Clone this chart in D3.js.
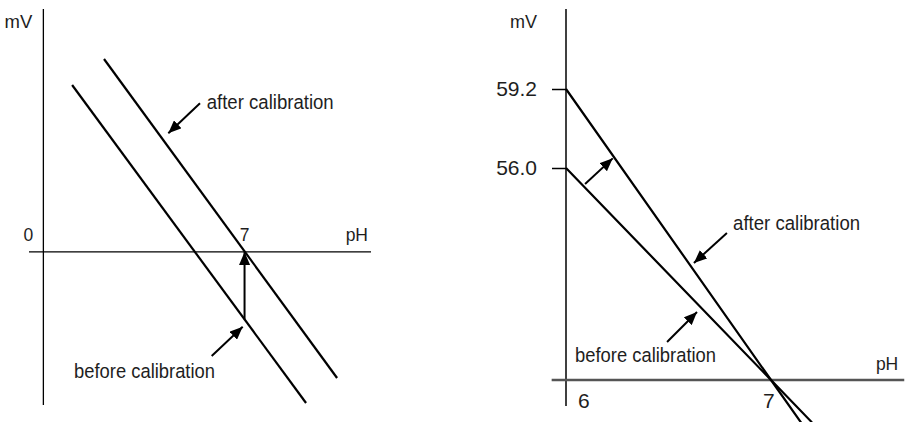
<!DOCTYPE html>
<html><head><meta charset="utf-8">
<script src="https://cdn.jsdelivr.net/npm/d3@7"></script>
<style>html,body{margin:0;padding:0;background:#fff;overflow:hidden} svg{display:block}</style>
</head><body>
<script>
// ---------- Left panel: offset (zero point) correction ----------
const leftAxisPH   = [-0.5, 11.4];     // extent of the pH axis line
const leftAxisMV   = [-230, 365];      // extent of the mV axis line
const leftAfterPH  = [2.11, 10.22];
const leftAfterMV  = [289.9, -189.4];
const leftBeforePH = [1.0, 9.14];
const leftBeforeMV = [250.8, -227.0];
const leftShiftPH  = [7, 7];
const leftShiftMV  = [-101, 0];
const leftTickPH     = [0, 7];
const leftTickLabels = ["0", "7"];

// ---------- Right panel: slope correction ----------
const rightAxisPH    = [5.93, 7.65];
const rightAxisMV    = [-6.9, 62.44];
const rightMVKnots   = [0, 56.0, 59.2];
const rightAfterPH   = [6, 7, 7.15];
const rightAfterMV   = [59.2, 0, -11.5];
const rightBeforePH  = [6, 7, 7.2];
const rightBeforeMV  = [56.0, 0, -11.2];
const rightTickMV       = [59.2, 56.0];
const rightTickMVLabels = ["59.2", "56.0"];
const rightTickPH       = [6, 7];
const rightTickPHLabels = ["6", "7"];

// annotations (in data units)
const leftNotes = [
  {text: "after calibration",  tx: 5.683, ty: 214.3, fx: 5.45,  fy: 223.3, px: 4.347, py: 178.2},
  {text: "before calibration", tx: 1.066, ty: -189.9, fx: 5.857, fy: -156.4, px: 6.936, py: -112.4}
];
const rightNotes = [
  {text: null,                 fx: 6.093, fy: 51.77, px: 6.228, py: 56.39},
  {text: "after calibration",  tx: 6.815, ty: 39.62, fx: 6.785, fy: 38.83, px: 6.624, py: 30.91},
  {text: "before calibration", tx: 6.044, ty: 4.75,  fx: 6.493, fy: 10.04, px: 6.639, py: 17.96}
];

// ---------- rendering ----------
const W = 906, H = 422;
const FONT = "'Liberation Sans', Arial, sans-serif";
const INK = "#1e1e1e";
const noteLen = {"after calibration": 127, "before calibration": 141};

const svg = d3.select("body").append("svg").attr("width", W).attr("height", H)
  .attr("font-family", FONT);

const defs = svg.append("defs");
defs.append("marker").attr("id", "ah")
  .attr("viewBox", "0 0 13 11").attr("refX", 13).attr("refY", 5.5)
  .attr("markerWidth", 13).attr("markerHeight", 11)
  .attr("markerUnits", "userSpaceOnUse").attr("orient", "auto")
  .append("path").attr("d", "M0,0L13,5.5L0,11Z").attr("fill", "#000");

function pairs(xs, ys) { return xs.map((x, i) => [x, ys[i]]); }

function drawNotes(g, notes, x, y) {
  notes.forEach(n => {
    g.append("line")
      .attr("x1", x(n.fx)).attr("y1", y(n.fy))
      .attr("x2", x(n.px)).attr("y2", y(n.py))
      .attr("stroke", "#000").attr("stroke-width", 2)
      .attr("marker-end", "url(#ah)");
    if (n.text) {
      g.append("text").attr("x", x(n.tx)).attr("y", y(n.ty))
        .attr("font-size", 20.5).attr("fill", INK)
        .attr("textLength", noteLen[n.text]).attr("lengthAdjust", "spacingAndGlyphs")
        .text(n.text);
    }
  });
}

// ----- left panel -----
{
  const x = d3.scaleLinear().domain(leftAxisPH).range([29, 371]);
  const y = d3.scaleLinear().domain(leftAxisMV).range([405, 9]);
  const g = svg.append("g");
  const line = d3.line().x(d => x(d[0])).y(d => y(d[1]));

  // axes
  g.append("line").attr("x1", x(0)).attr("x2", x(0))
    .attr("y1", y(leftAxisMV[1])).attr("y2", y(leftAxisMV[0]))
    .attr("stroke", "#000").attr("stroke-width", 1.3);
  g.append("line").attr("y1", y(0)).attr("y2", y(0))
    .attr("x1", x(leftAxisPH[0])).attr("x2", x(leftAxisPH[1]))
    .attr("stroke", "#000").attr("stroke-width", 1.3);

  // response lines
  g.append("path").attr("d", line(pairs(leftAfterPH, leftAfterMV)))
    .attr("fill", "none").attr("stroke", "#000").attr("stroke-width", 2.2);
  g.append("path").attr("d", line(pairs(leftBeforePH, leftBeforeMV)))
    .attr("fill", "none").attr("stroke", "#000").attr("stroke-width", 2.2);

  // offset shift arrow
  const s = pairs(leftShiftPH, leftShiftMV);
  g.append("line").attr("x1", x(s[0][0])).attr("y1", y(s[0][1]))
    .attr("x2", x(s[1][0])).attr("y2", y(s[1][1]))
    .attr("stroke", "#000").attr("stroke-width", 2)
    .attr("marker-end", "url(#ah)");

  // labels
  leftTickPH.forEach((v, i) => {
    g.append("text").attr("x", x(v) + (i === 0 ? -15 : 0)).attr("y", y(0) - 11)
      .attr("text-anchor", "middle").attr("font-size", 17.5).attr("fill", INK)
      .text(leftTickLabels[i]);
  });
  g.append("text").attr("x", x(leftAxisPH[1]) - 3).attr("y", y(0) - 11)
    .attr("text-anchor", "end").attr("font-size", 17.5).attr("fill", INK).text("pH");
  g.append("text").attr("x", x(0) - 11).attr("y", y(leftAxisMV[1]) + 19)
    .attr("text-anchor", "end").attr("font-size", 18.5).attr("fill", INK).text("mV");

  drawNotes(g, leftNotes, x, y);
}

// ----- right panel -----
{
  const x = d3.scaleLinear().domain([6, 7]).range([566, 771]);
  const y = d3.scaleLinear().domain(rightMVKnots).range([380, 168, 89]);
  const g = svg.append("g");
  const line = d3.line().x(d => x(d[0])).y(d => y(d[1]));

  // vertical axis
  g.append("line").attr("x1", x(6)).attr("x2", x(6))
    .attr("y1", y(rightAxisMV[1])).attr("y2", y(rightAxisMV[0]))
    .attr("stroke", "#000").attr("stroke-width", 1.5);

  // mV ticks via d3.axisLeft
  const ax = g.append("g").attr("transform", `translate(${x(6)},0)`)
    .call(d3.axisLeft(y).tickValues(rightTickMV).tickSize(14).tickPadding(15)
      .tickFormat((d, i) => rightTickMVLabels[i]));
  ax.select(".domain").remove();
  ax.selectAll(".tick line").attr("stroke", "#000").attr("stroke-width", 1.5);
  ax.selectAll(".tick text").attr("font-size", 21).attr("font-family", FONT).attr("fill", INK);

  // horizontal axis
  g.append("line").attr("y1", y(0)).attr("y2", y(0))
    .attr("x1", x(rightAxisPH[0])).attr("x2", x(rightAxisPH[1]))
    .attr("stroke", "#555").attr("stroke-width", 2.5);

  // pH tick labels
  const phOff = [12, -8];
  rightTickPH.forEach((v, i) => {
    g.append("text").attr("x", x(v) + phOff[i]).attr("y", y(0) + 28)
      .attr("font-size", 21).attr("fill", INK).text(rightTickPHLabels[i]);
  });
  g.append("text").attr("x", x(rightAxisPH[1]) - 6).attr("y", y(0) - 10)
    .attr("text-anchor", "end").attr("font-size", 17.5).attr("fill", INK).text("pH");
  g.append("text").attr("x", x(6) - 29).attr("y", y(rightAxisMV[1]) + 19)
    .attr("text-anchor", "end").attr("font-size", 18).attr("fill", INK).text("mV");

  // response lines
  g.append("path").attr("d", line(pairs(rightAfterPH, rightAfterMV)))
    .attr("fill", "none").attr("stroke", "#000").attr("stroke-width", 2.2);
  g.append("path").attr("d", line(pairs(rightBeforePH, rightBeforeMV)))
    .attr("fill", "none").attr("stroke", "#000").attr("stroke-width", 2.2);

  drawNotes(g, rightNotes, x, y);
}
</script>
</body></html>
